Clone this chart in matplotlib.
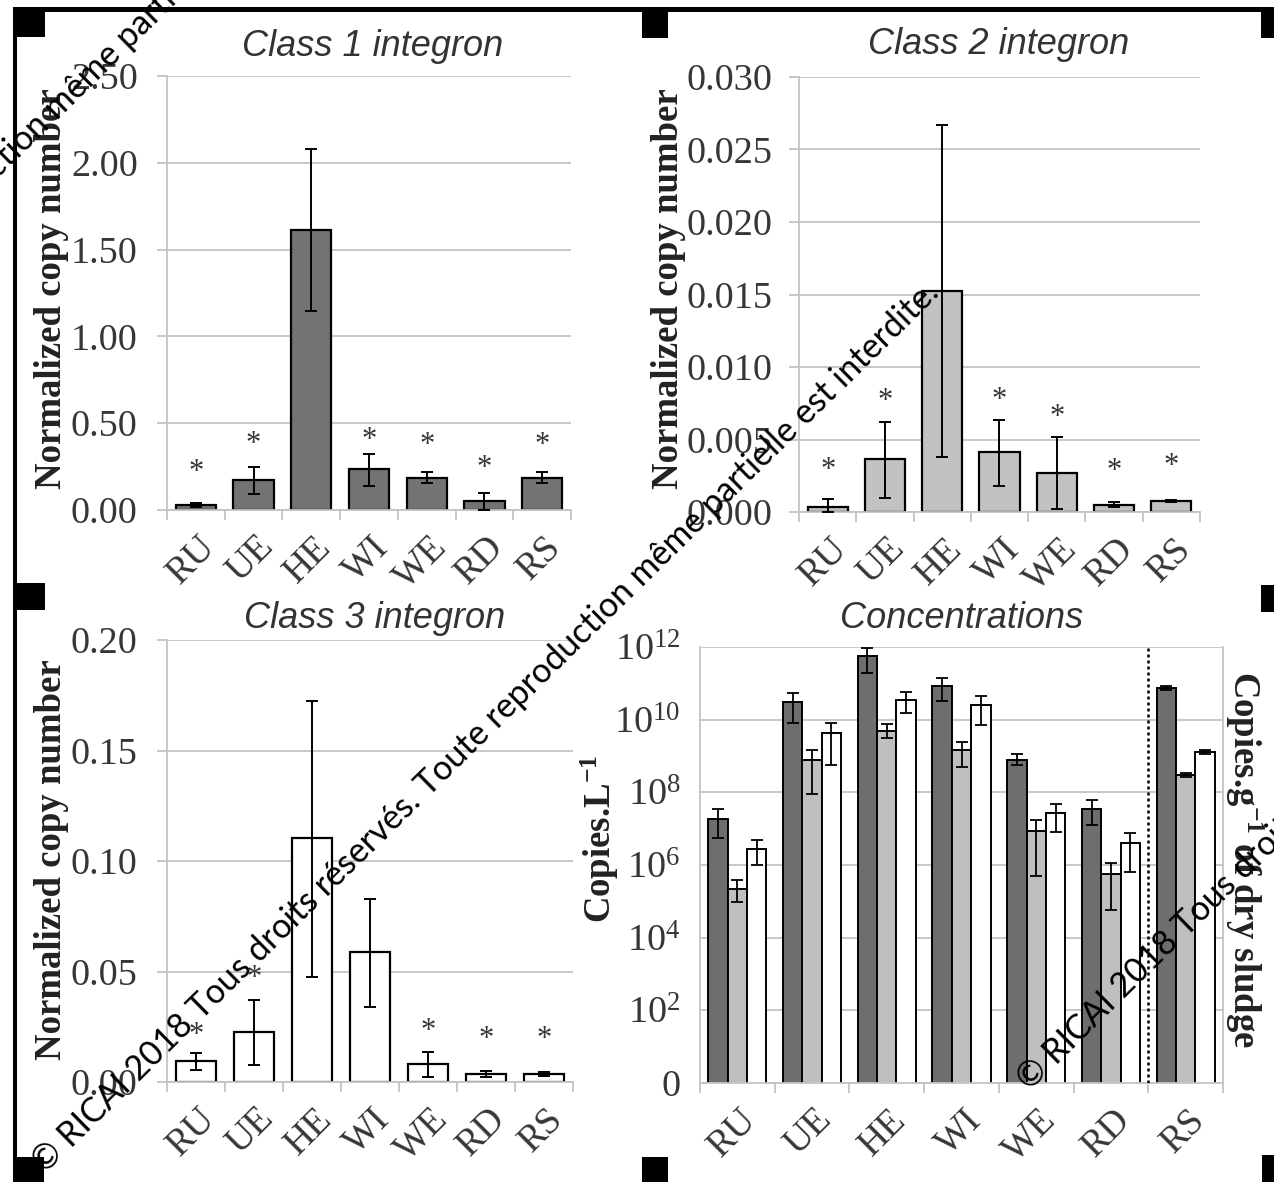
import numpy as np
import matplotlib
matplotlib.use("Agg")
import matplotlib.pyplot as plt
from matplotlib.patches import Rectangle
from matplotlib.transforms import ScaledTranslation
from matplotlib.ticker import NullLocator

# sites, in sampling order
sites = ["RU", "UE", "HE", "WI", "WE", "RD", "RS"]

# class 1 integron (normalized copy number)
int1 = [0.029, 0.172, 1.614, 0.238, 0.187, 0.050, 0.187]
int1_lo = [0.018, 0.095, 1.148, 0.139, 0.156, 0.000, 0.156]
int1_hi = [0.040, 0.245, 2.077, 0.320, 0.220, 0.100, 0.220]
int1_star = [0.216, 0.377, None, 0.403, 0.370, 0.238, 0.370]

# class 2 integron
int2 = [0.00034, 0.00364, 0.01524, 0.00417, 0.00269, 0.00047, 0.00074]
int2_lo = [0.00000, 0.00100, 0.00377, 0.00180, 0.00020, 0.00034, 0.00066]
int2_hi = [0.00087, 0.00620, 0.02670, 0.00635, 0.00520, 0.00066, 0.00084]
int2_star = [0.00285, 0.00760, None, 0.00770, 0.00654, 0.00277, 0.00316]

# class 3 integron
int3 = [0.0094, 0.0224, 0.1103, 0.0586, 0.0082, 0.0036, 0.0036]
int3_lo = [0.0053, 0.0077, 0.0475, 0.0338, 0.0022, 0.0022, 0.0027]
int3_hi = [0.0133, 0.0373, 0.1726, 0.0826, 0.0138, 0.0048, 0.0044]
int3_star = [0.0210, 0.0467, None, None, 0.0230, 0.0193, 0.0193]

# concentrations (copies/L, RS in copies/g dry sludge)
conc1 = [1.9e7, 3.0e10, 5.5e11, 8.5e10, 7.6e8, 3.4e7, 7.6e10]
conc1_lo = [5.6e6, 8.3e9, 1.9e11, 3.2e10, 5.8e8, 1.3e7, 6.5e10]
conc1_hi = [3.4e7, 5.4e10, 9.5e11, 1.4e11, 1.1e9, 6.2e7, 8.7e10]
conc2 = [2.2e5, 7.9e8, 4.9e9, 1.5e9, 8.5e6, 5.6e5, 3.0e8]
conc2_lo = [9.8e4, 8.9e7, 3.1e9, 5.0e8, 5.1e5, 5.6e4, 2.6e8]
conc2_hi = [3.8e5, 1.5e9, 7.4e9, 2.5e9, 1.7e7, 1.1e6, 3.3e8]
conc3 = [2.8e6, 4.3e9, 3.5e10, 2.6e10, 2.7e7, 4.0e6, 1.3e9]
conc3_lo = [1.0e6, 5.8e8, 1.5e10, 7.1e9, 8.1e6, 6.6e5, 1.15e9]
conc3_hi = [4.8e6, 8.3e9, 5.9e10, 4.5e10, 4.9e7, 7.8e6, 1.5e9]

log_ticks = [1, 1e2, 1e4, 1e6, 1e8, 1e10, 1e12]
log_labels = ["0", r"$\mathregular{10^2}$", r"$\mathregular{10^4}$", r"$\mathregular{10^6}$",
              r"$\mathregular{10^8}$", r"$\mathregular{10^{10}}$", r"$\mathregular{10^{12}}$"]

W, H = 1274, 1182
SERIF = "Liberation Serif"
SANS = "Liberation Sans"
TXT = "#363636"
GRID = "#c4c4c4"

plt.rcParams["mathtext.fontset"] = "custom"
plt.rcParams["mathtext.rm"] = SERIF
plt.rcParams["mathtext.bf"] = SERIF + ":bold"
plt.rcParams["mathtext.default"] = "regular"

fig = plt.figure(figsize=(W / 100, H / 100), dpi=100)


def box(x0, y0, x1, y1):
    return [x0 / W, 1 - y1 / H, (x1 - x0) / W, (y1 - y0) / H]


def ftext(x, y, s, **kw):
    fig.text(x / W, 1 - y / H, s, **kw)


def style(ax, ylim, yticks, ylabels, ytick_len=7, ypad=14):
    x = np.arange(len(sites))
    ax.set_xlim(-0.5, len(sites) - 0.5)
    ax.set_ylim(*ylim)
    ax.set_yticks(yticks)
    ax.set_yticklabels(ylabels)
    ax.yaxis.grid(True, color=GRID, lw=1.3)
    ax.set_axisbelow(True)
    for s in ["top", "right"]:
        ax.spines[s].set_visible(False)
    for s in ["left", "bottom"]:
        ax.spines[s].set_color(GRID)
        ax.spines[s].set_linewidth(1.3)
    ax.tick_params(axis="y", length=ytick_len, width=1.3, color=GRID, pad=ypad,
                   labelsize=27.5, labelcolor=TXT)
    ax.set_xticks(x)
    ax.set_xticks(np.arange(-0.5, len(sites), 1), minor=True)
    ax.tick_params(axis="x", which="major", length=0, pad=14)
    ax.tick_params(axis="x", which="minor", length=7, width=1.3, color=GRID)
    ax.set_xticklabels(sites, rotation=45, ha="right", va="top",
                       rotation_mode="anchor", fontsize=27, color=TXT)
    off = ScaledTranslation(2 / 100, 0, fig.dpi_scale_trans)
    for lbl in ax.get_xticklabels():
        lbl.set_transform(lbl.get_transform() + off)
        lbl.set_fontfamily(SERIF)
    for lbl in ax.get_yticklabels():
        lbl.set_fontfamily(SERIF)


def integron(ax, vals, lo, hi, stars, color):
    x = np.arange(len(sites))
    v = np.array(vals)
    err = [v - np.array(lo), np.array(hi) - v]
    ax.bar(x, v, 0.7, color=color, edgecolor="black", linewidth=1.6, zorder=2)
    ax.errorbar(x, v, yerr=err, fmt="none", ecolor="black", elinewidth=1.4,
                capsize=4, capthick=1.4, zorder=3)
    for xi, s in zip(x, stars):
        if s is not None:
            ax.text(xi, s, "*", ha="center", va="center", fontsize=22,
                    family=SERIF, color=TXT)


# Class 1
ax1 = fig.add_axes(box(167, 76, 571, 510))
integron(ax1, int1, int1_lo, int1_hi, int1_star, "#737373")
style(ax1, (0, 2.5), np.arange(0, 2.51, 0.5),
      ["0.00", "0.50", "1.00", "1.50", "2.00", "2.50"])

# Class 2
ax2 = fig.add_axes(box(799, 77, 1200, 512))
integron(ax2, int2, int2_lo, int2_hi, int2_star, "#c2c2c2")
style(ax2, (0, 0.030), np.arange(0, 0.0301, 0.005),
      ["0.000", "0.005", "0.010", "0.015", "0.020", "0.025", "0.030"], ypad=12)

# Class 3
ax3 = fig.add_axes(box(167, 640, 573, 1082))
integron(ax3, int3, int3_lo, int3_hi, int3_star, "white")
style(ax3, (0, 0.20), np.arange(0, 0.201, 0.05),
      ["0.00", "0.05", "0.10", "0.15", "0.20"])

# Concentrations
ax4 = fig.add_axes(box(700, 647, 1223, 1083))
ax4.set_yscale("log")
x = np.arange(len(sites))
bw = 0.26
for k, (vals, lo, hi, col) in enumerate([(conc1, conc1_lo, conc1_hi, "#6e6e6e"),
                                         (conc2, conc2_lo, conc2_hi, "#bfbfbf"),
                                         (conc3, conc3_lo, conc3_hi, "white")]):
    v = np.array(vals)
    xs = x + (k - 1) * bw
    ax4.bar(xs, v, bw, color=col, edgecolor="black", linewidth=1.4, zorder=2)
    ax4.errorbar(xs, v, yerr=[v - np.array(lo), np.array(hi) - v], fmt="none",
                 ecolor="black", elinewidth=1.3, capsize=4, capthick=1.3, zorder=3)
style(ax4, (1, 1e12), log_ticks, log_labels, ytick_len=0, ypad=14)
ax4.yaxis.set_minor_locator(NullLocator())
ax4.spines["right"].set_visible(True)
ax4.spines["right"].set_color(GRID)
ax4.spines["right"].set_linewidth(1.3)
ax4.axvline(5.5, color="black", ls=(0, (1.2, 1.2)), lw=1.8, zorder=4)

# titles and axis labels
tkw = dict(family=SANS, style="italic", fontsize=26, color="#333333",
           ha="center", va="center")
ftext(373, 46, "Class 1 integron", **tkw)
ftext(999, 45, "Class 2 integron", **tkw)
ftext(375, 618, "Class 3 integron", **tkw)
ftext(962, 618, "Concentrations", **tkw)

lkw = dict(family=SERIF, weight="bold", fontsize=26.5, color="#222222",
           ha="center", va="center")
ftext(52, 289, "Normalized copy number", rotation=90, **lkw)
ftext(668, 289, "Normalized copy number", rotation=90, **lkw)
ftext(52, 860, "Normalized copy number", rotation=90, **lkw)
ftext(600, 839, r"Copies.L$^{\mathbf{-1}}$", rotation=90, **lkw)
ftext(1244, 859, r"Copies.g$^{\mathbf{-1}}$ of dry sludge", rotation=270, **lkw)

# scan frame marks
marks = [(13, 7, 1274, 12), (13, 7, 17, 1182),
         (13, 7, 45, 37), (642, 7, 668, 38), (1261, 7, 1274, 38),
         (13, 583, 45, 610), (1261, 585, 1274, 612),
         (13, 1157, 44, 1182), (642, 1157, 668, 1182), (1262, 1155, 1274, 1182)]
for x0, y0, x1, y1 in marks:
    fig.add_artist(Rectangle((x0 / W, 1 - y1 / H), (x1 - x0) / W, (y1 - y0) / H,
                             transform=fig.transFigure, color="black", lw=0))

# watermark
wm = "© RICAI 2018 Tous droits réservés. Toute reproduction même partielle est interdite."
for sx, sy in [(45, 1175), (1030, 1092), (-540, 708)]:
    ftext(sx, sy, wm, rotation=44.5, rotation_mode="anchor", ha="left",
          va="baseline", family="Lato", fontsize=24.5, color="black")

fig.savefig("out.png", dpi=100)
